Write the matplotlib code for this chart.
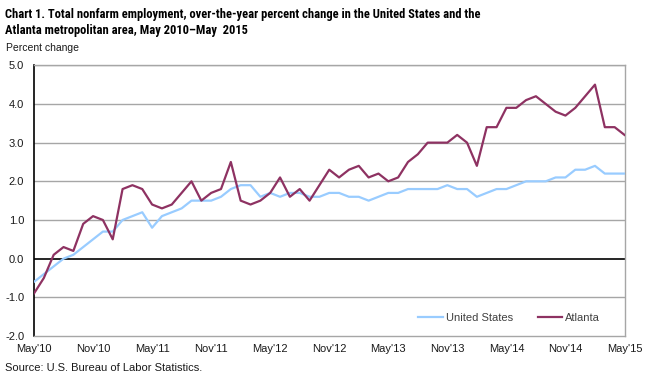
import matplotlib
matplotlib.use("Agg")
import matplotlib.pyplot as plt
from matplotlib import font_manager as fm
import numpy as np

plt.rcParams['font.family'] = ['Liberation Sans', 'DejaVu Sans']

months = ['May', 'Jun', 'Jul', 'Aug', 'Sep', 'Oct', 'Nov', 'Dec', 'Jan', 'Feb', 'Mar', 'Apr']
tick_labels = ["May'10", "Nov'10", "May'11", "Nov'11", "May'12", "Nov'12",
               "May'13", "Nov'13", "May'14", "Nov'14", "May'15"]

us = [-0.6, -0.4, -0.2, 0.0, 0.1, 0.3, 0.5, 0.7,
      0.7, 1.0, 1.1, 1.2, 0.8, 1.1, 1.2, 1.3, 1.5, 1.5, 1.5, 1.6,
      1.8, 1.9, 1.9, 1.6, 1.7, 1.6, 1.7, 1.7, 1.6, 1.6, 1.7, 1.7,
      1.6, 1.6, 1.5, 1.6, 1.7, 1.7, 1.8, 1.8, 1.8, 1.8, 1.9, 1.8,
      1.8, 1.6, 1.7, 1.8, 1.8, 1.9, 2.0, 2.0, 2.0, 2.1, 2.1, 2.3,
      2.3, 2.4, 2.2, 2.2, 2.2]

atlanta = [-0.9, -0.5, 0.1, 0.3, 0.2, 0.9, 1.1, 1.0,
           0.5, 1.8, 1.9, 1.8, 1.4, 1.3, 1.4, 1.7, 2.0, 1.5, 1.7, 1.8,
           2.5, 1.5, 1.4, 1.5, 1.7, 2.1, 1.6, 1.8, 1.5, 1.9, 2.3, 2.1,
           2.3, 2.4, 2.1, 2.2, 2.0, 2.1, 2.5, 2.7, 3.0, 3.0, 3.0, 3.2,
           3.0, 2.4, 3.4, 3.4, 3.9, 3.9, 4.1, 4.2, 4.0, 3.8, 3.7, 3.9,
           4.2, 4.5, 3.4, 3.4, 3.2]

x = np.arange(len(us))

# choose a narrow font for the title if one is installed
title_family = None
title_size = 7.8
for fam, size in [('Liberation Sans Narrow', 9.05), ('Roboto Condensed', 9.0),
                  ('DejaVu Sans Condensed', 8.2), ('Open Sans Condensed', 9.0)]:
    try:
        fm.findfont(fm.FontProperties(family=fam, weight='bold'), fallback_to_default=False)
        title_family = fam
        title_size = size
        break
    except Exception:
        continue
if title_family is None:
    title_families = ['Liberation Sans', 'DejaVu Sans']
else:
    title_families = [title_family, 'Liberation Sans', 'DejaVu Sans']

fig = plt.figure(figsize=(6.54, 3.75), dpi=100)
W, H = 654, 375
ax = fig.add_axes([34 / W, (H - 336) / H, (624.5 - 34) / W, (336 - 65.3) / H])

for yv in range(-1, 6):
    if yv == 0:
        continue
    ax.axhline(yv, color='#a6a6a6', lw=1.0, zorder=1)
ax.axhline(0, color='black', lw=1.2, zorder=2)

ax.plot(x, us, color='#99ccff', lw=1.6, label='United States', zorder=3)
ax.plot(x, atlanta, color='#8e3262', lw=1.6, label='Atlanta', zorder=4)

ax.set_xlim(0, 60)
ax.set_ylim(-2, 5)
ax.set_yticks(np.arange(-2, 5.01, 1.0))
ax.set_yticklabels([f'{v:.1f}' for v in np.arange(-2, 5.01, 1.0)], fontsize=8, color='#1a1a1a')
ax.set_xticks(np.arange(0, 61, 6))
ax.set_xticklabels(tick_labels, fontsize=8, color='#1a1a1a')
ax.tick_params(axis='y', length=0, pad=7)
ax.tick_params(axis='x', length=0, pad=6)

ax.spines['left'].set_color('black')
ax.spines['left'].set_linewidth(1.2)
for s in ['right', 'top', 'bottom']:
    ax.spines[s].set_color('#a6a6a6')
    ax.spines[s].set_linewidth(1.0)

leg = ax.legend(loc='lower right', ncol=2, frameon=False, fontsize=8,
                bbox_to_anchor=(0.976, 0.01), handlelength=2.2, handletextpad=0.3,
                columnspacing=2.2)
for t in leg.get_texts():
    t.set_color('#404040')

fig.text(5 / W, 1 - 8 / H,
         "Chart 1. Total nonfarm employment, over-the-year percent change in the United States and the\nAtlanta metropolitan area, May 2010\u2013May  2015",
         fontsize=title_size, fontweight='bold', va='top', ha='left', linespacing=1.3,
         family=title_families)
fig.text(6 / W, 1 - 51 / H, "Percent change", fontsize=7.5, color='#1a1a1a', va='baseline')
fig.text(5 / W, 1 - 371 / H, "Source: U.S. Bureau of Labor Statistics.", fontsize=8, color='#1a1a1a', va='baseline')

fig.savefig('out.png', dpi=100)
